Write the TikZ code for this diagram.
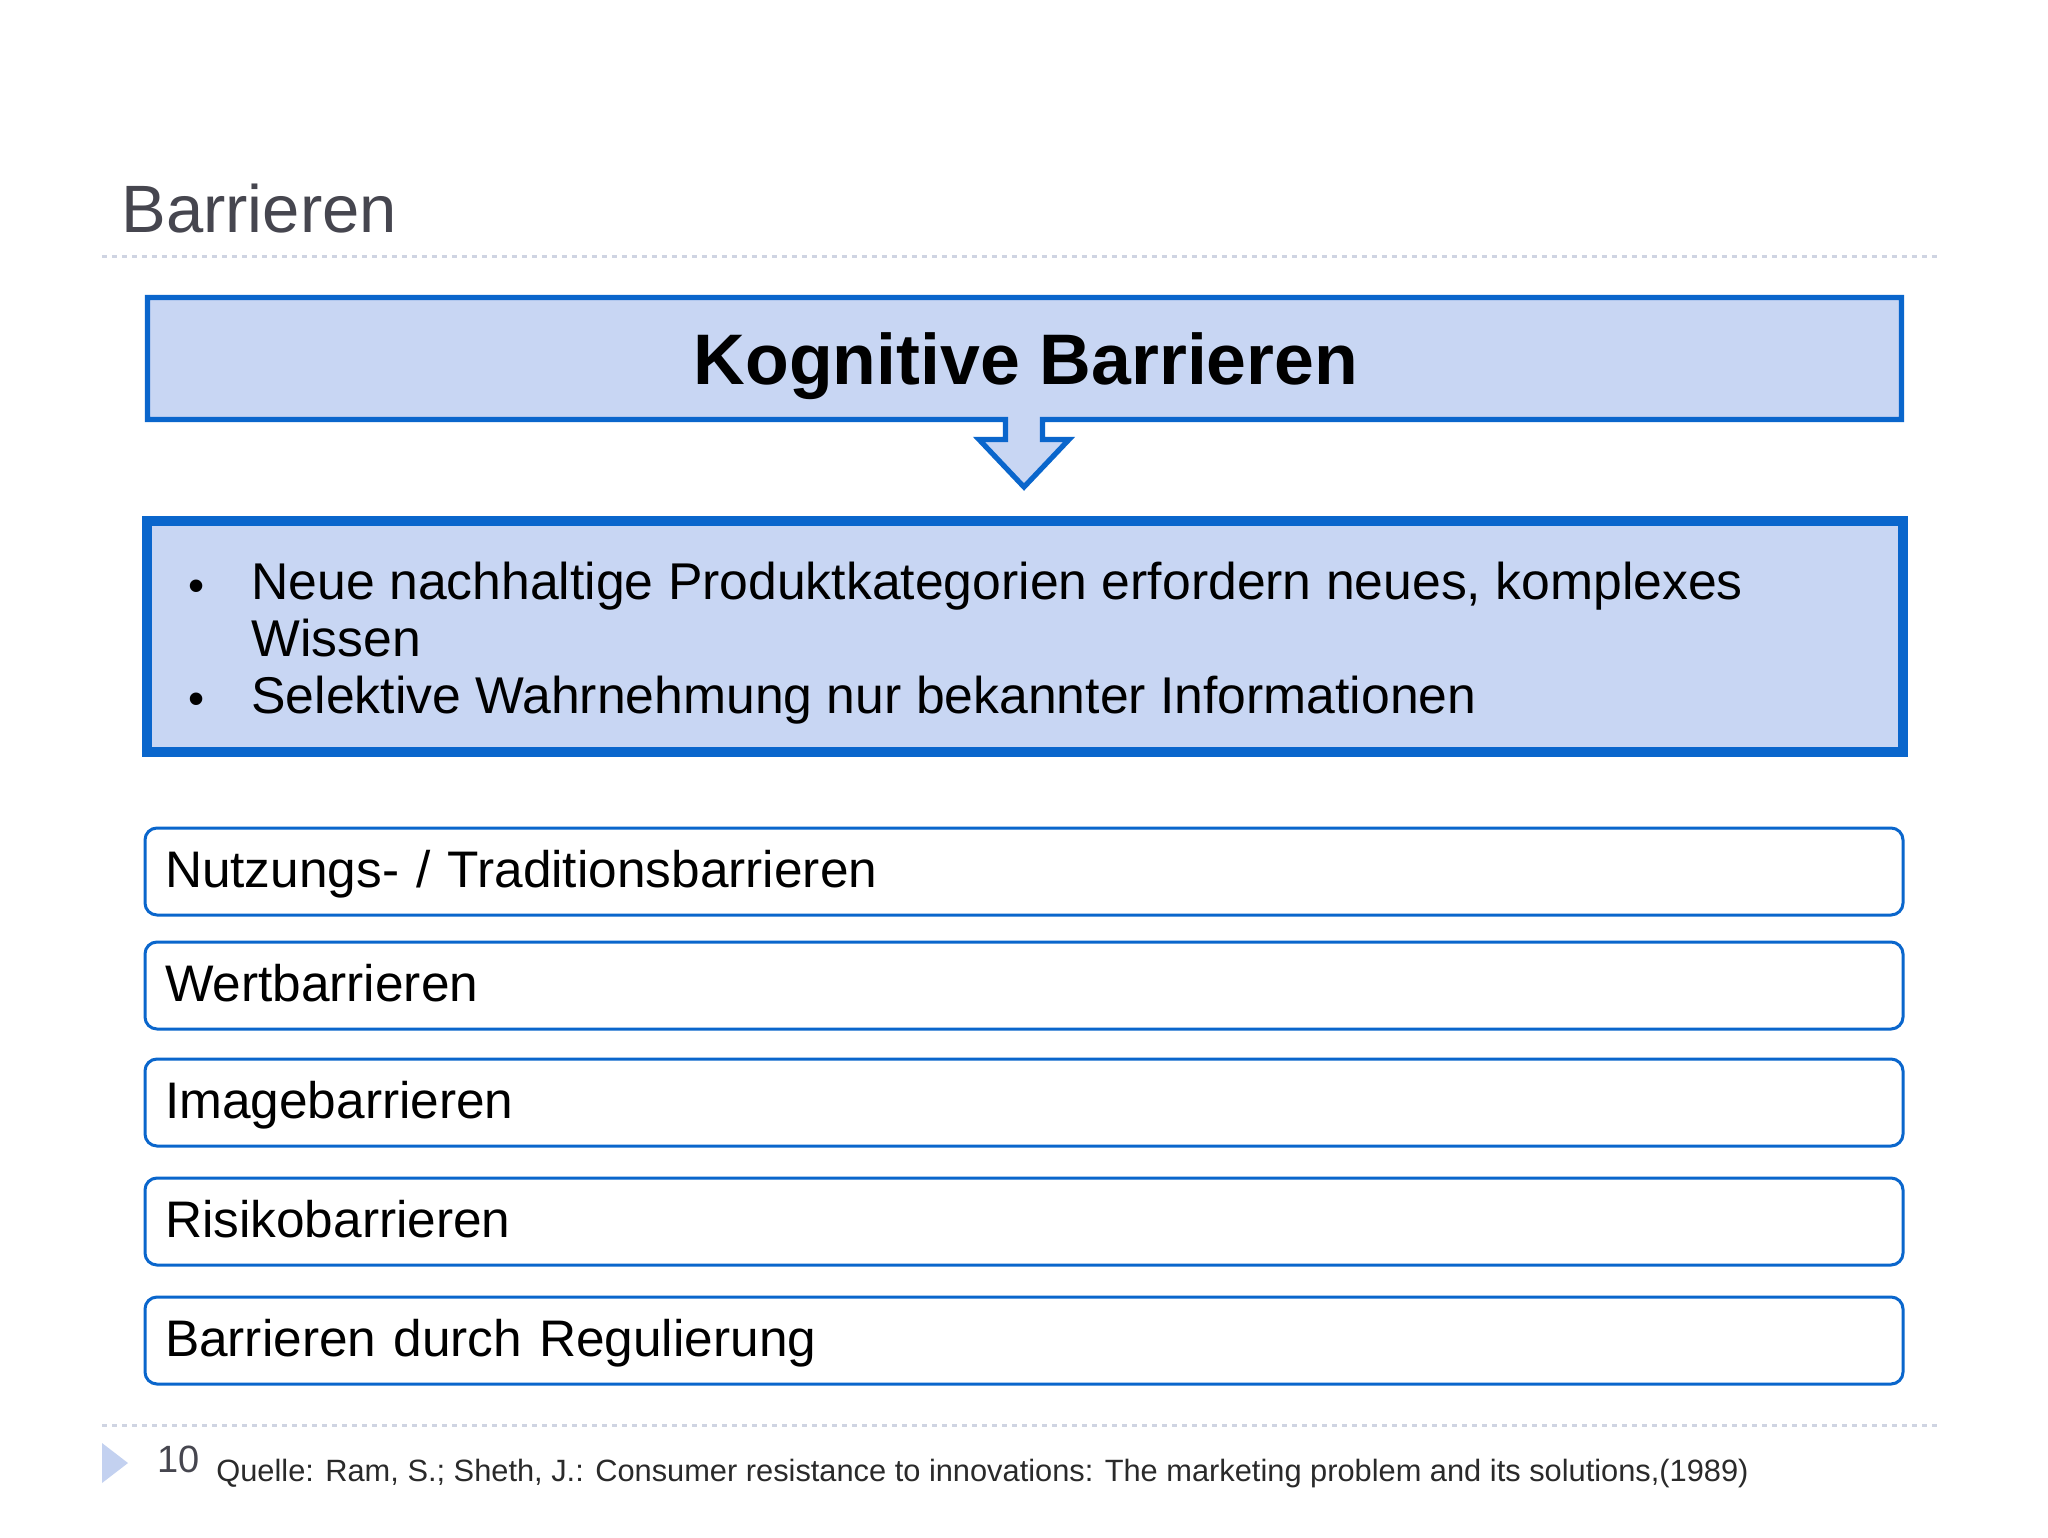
\documentclass[tikz,border=0pt]{standalone}
\usepackage{fontspec}
\setmainfont{Liberation Sans}
\definecolor{bblue}{HTML}{0A66CC}
\definecolor{bfill}{HTML}{C8D6F3}
\definecolor{titlegray}{HTML}{46464F}
\definecolor{dotc}{HTML}{CfD4E2}
\definecolor{trif}{HTML}{C3D1F0}
\definecolor{foot}{HTML}{2A2A2A}
\tikzset{
  dotline/.style={draw=dotc, line width=1.5pt, dash pattern=on 2.5pt off 2.5pt},
  lbox/.style={draw=bblue, line width=1.5pt, rounded corners=6pt, fill=white,
    anchor=north west, outer sep=0pt, inner xsep=10pt, inner ysep=0pt,
    minimum height=43.5pt, text width=859pt, align=left,
    text height=18pt, text depth=2.5pt,
    font=\fontsize{25.7}{28}\selectfont},
  btext/.style={anchor=base west, inner sep=0pt, font=\fontsize{25.85}{28.5}\selectfont, align=left},
  bullet/.style={anchor=center, inner sep=0pt, font=\fontsize{23}{23}\selectfont}
}
\begin{document}
\begin{tikzpicture}[x=0.5pt,y=-0.5pt]
\useasboundingbox (0,0) rectangle (2048,1537);
\fill[white] (0,0) rectangle (2048,1537);

% title
\node[anchor=base west, inner sep=0pt, text=titlegray, font=\fontsize{33.5}{36}\selectfont] (title) at (121,232) {Barrieren};
\coordinate (tl1) at (102,256);
\coordinate (tl2) at (1940,256);
\draw[dotline] (tl1) -- (tl2);

% header box with arrow
\draw[draw=bblue, fill=bfill, line width=2.6pt, miter limit=10]
  (147.5,297.5) -- (1901.5,297.5) -- (1901.5,419.5) -- (1042.5,419.5) -- (1042.5,439.5)
  -- (1069,439.5) -- (1024,487) -- (979,439.5) -- (1005.5,439.5) -- (1005.5,419.5)
  -- (147.5,419.5) -- cycle;
\node[anchor=base, inner sep=0pt, font=\bfseries\fontsize{35.8}{40}\selectfont] (kog) at (1026,384) {Kognitive Barrieren};

% bullet box
\node[draw=bblue, fill=bfill, line width=5pt, outer sep=0pt, minimum width=878pt, minimum height=115.5pt] (liste) at (1025,636.5) {};
\node[bullet] (b1) at (197,591) {•};
\node[bullet] (b2) at (197,704) {•};
\node[btext] (t1) at (251,656) {Neue nachhaltige Produktkategorien erfordern neues, komplexes\\Wissen};
\node[btext] (t2) at (251,713) {Selektive Wahrnehmung nur bekannter Informationen};

% lower boxes
\node[lbox] (n1) at (145,828) {Nutzungs- / Traditionsbarrieren};
\node[lbox] (n2) at (145,942) {Wertbarrieren};
\node[lbox] (n3) at (145,1059) {Imagebarrieren};
\node[lbox] (n4) at (145,1178) {Risikobarrieren};
\node[lbox] (n5) at (145,1297) {Barrieren durch Regulierung};

% footer
\coordinate (fl1) at (102,1425);
\coordinate (fl2) at (1940,1425);
\draw[dotline] (fl1) -- (fl2);
\fill[trif] (102,1443) -- (128,1463) -- (102,1483) -- cycle;
\node[anchor=base west, inner sep=0pt, text=titlegray, font=\fontsize{19}{20}\selectfont] (page) at (157,1472) {10};
\node[anchor=base west, inner sep=0pt, text=foot, font=\fontsize{15.4}{17}\selectfont] (quelle) at (216,1481) {Quelle: Ram, S.; Sheth, J.: Consumer resistance to innovations: The marketing problem and its solutions,(1989)};
\end{tikzpicture}
\end{document}
